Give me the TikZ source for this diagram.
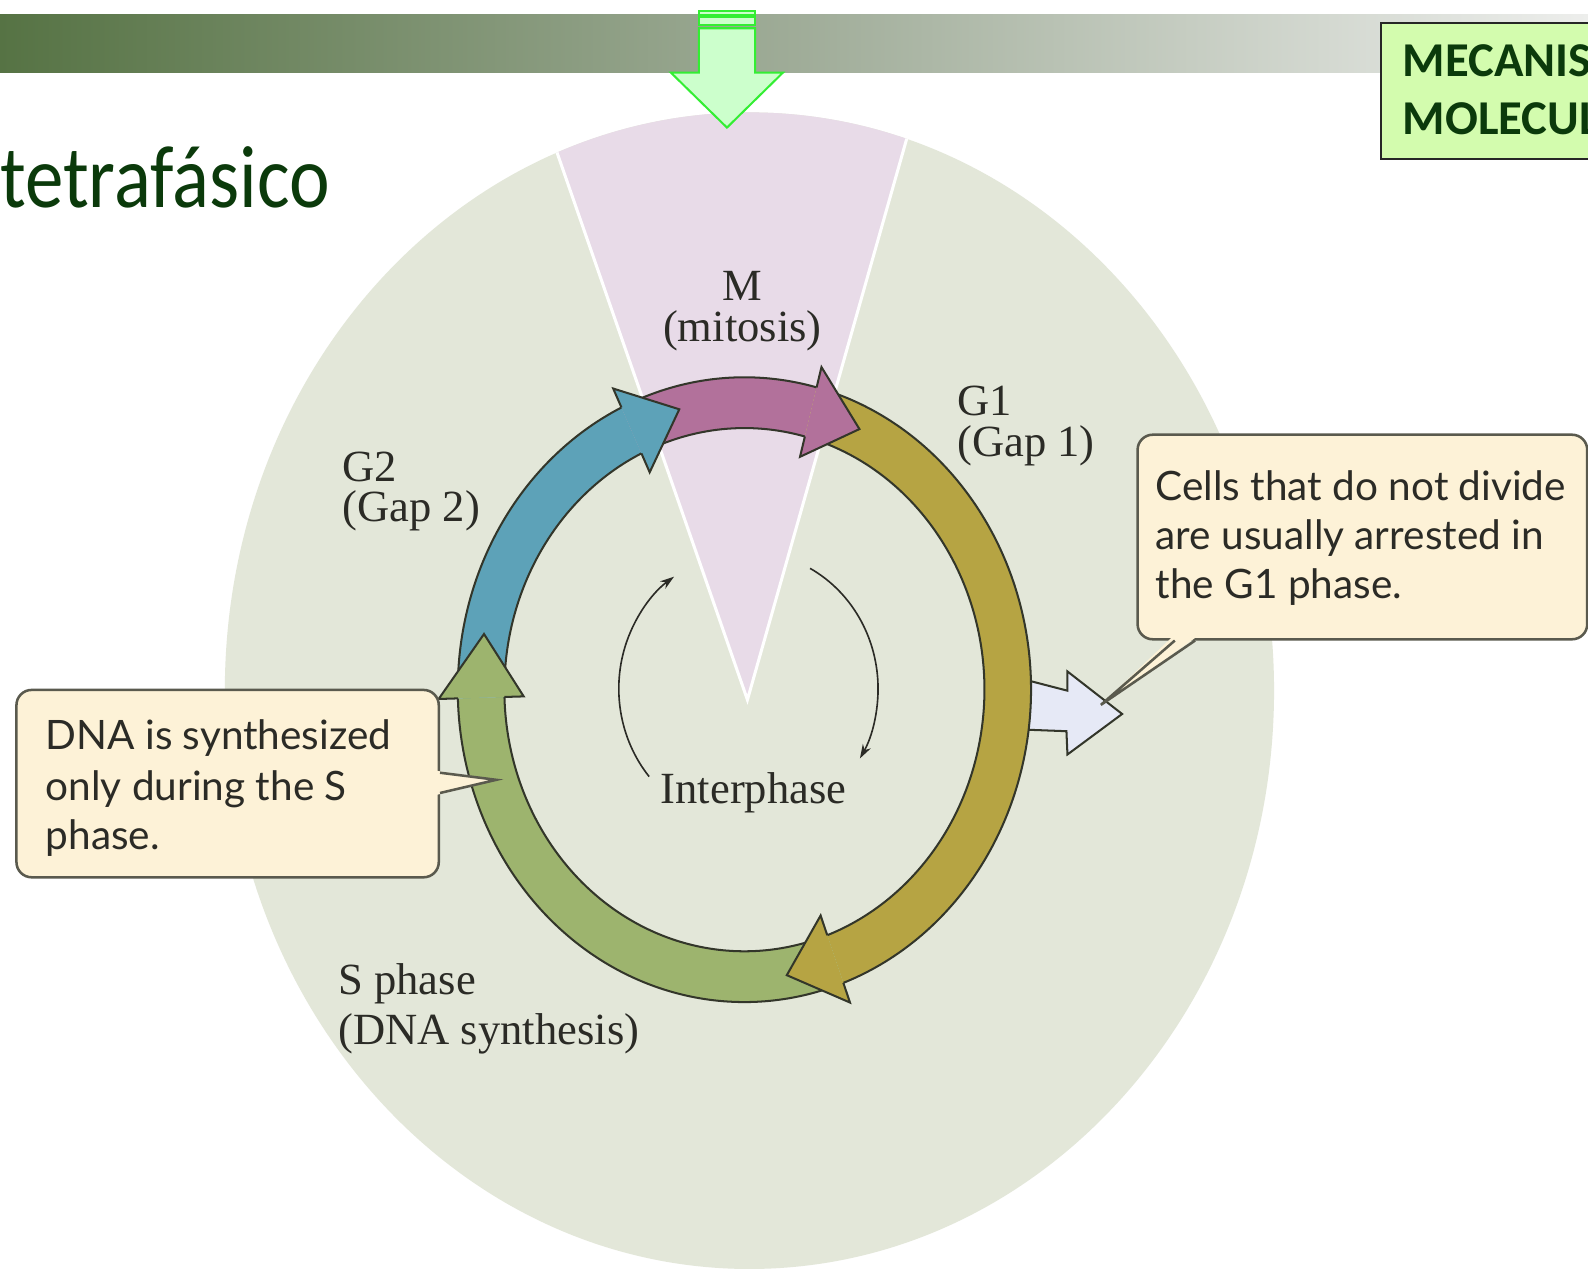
\documentclass[tikz,border=0pt]{standalone}
\usepackage{fontspec}
\setmainfont{Liberation Serif}
\newfontfamily\calfont{Carlito}
\newfontfamily\callfont{Lato}
\usetikzlibrary{arrows.meta,calc}
\definecolor{bardark}{HTML}{567344}
\definecolor{barmid}{HTML}{9FAC98}
\definecolor{barlight}{HTML}{EDEEEC}
\definecolor{disc}{HTML}{E3E7D9}
\definecolor{wedge}{HTML}{E8DBE8}
\definecolor{magc}{HTML}{B2719B}
\definecolor{bluec}{HTML}{5DA2B8}
\definecolor{yelc}{HTML}{B6A443}
\definecolor{grnc}{HTML}{9DB46E}
\definecolor{rim}{HTML}{33362A}
\definecolor{cream}{HTML}{FDF2D7}
\definecolor{boxrim}{HTML}{5A5A4E}
\definecolor{titlec}{HTML}{0B3A0B}
\definecolor{lgreen}{HTML}{D3FCAE}
\definecolor{arrowgreen}{HTML}{33EE33}
\definecolor{arrowfill}{HTML}{CCFFCC}
\definecolor{exitc}{HTML}{E6E9F6}
\definecolor{ink}{HTML}{2B2B26}
\newcommand\cycbody[3]{%
  \fill[#1] (#2:283) arc[start angle=#2, end angle=#3, radius=283] -- (#3:237) arc[start angle=#3, end angle=#2, radius=237] -- cycle;
  \draw[band] (#2:283) arc[start angle=#2, end angle=#3, radius=283];
  \draw[band] (#2:237) arc[start angle=#2, end angle=#3, radius=237];}
\newcommand\cychead[3]{%
  \fill[#1] (#2:302) -- (#3:262) -- (#2:218) -- cycle;
  \draw[band, line join=miter] (#2:283) -- (#2:302) -- (#3:262) -- (#2:218) -- (#2:237);}
\begin{document}
\begin{tikzpicture}[x=1pt,y=1pt,
  lbl/.style={text=ink, inner sep=0pt, anchor=north west, align=left},
  calltext/.style={font=\callfont\fontsize{40}{40}\selectfont, text=ink, inner sep=0pt, anchor=base west},
  callbox/.style={draw=boxrim, line width=2.5pt, fill=cream, rounded corners=15pt, inner sep=0pt, anchor=north west},
  band/.style={line width=2pt, draw=rim},
  garrow/.style={draw=arrowgreen, fill=arrowfill, line width=2pt},
]
\useasboundingbox (0,0) rectangle (1568,1266);
\fill[white] (0,0) rectangle (1568,1266);
\clip (0,0) rectangle (1568,1266);
\begin{scope}[shift={(0,1266)}, yscale=-1]
  % top bar
  \shade[left color=bardark, right color=barlight, middle color=barmid] (0,14) rectangle (1568,72);
  % background disc and mitosis wedge
  \fill[disc] (740,682) ellipse [x radius=518, y radius=571];
  \begin{scope}
    \clip (740,682) ellipse [x radius=518, y radius=571];
    \fill[wedge] (738,691) -- (515,50) -- (920,50) -- cycle;
    \draw[white, line width=3pt] (515,50) -- (738,691) -- (920,50);
  \end{scope}
  % green down arrow
  \filldraw[garrow] (690,10.6) rectangle (745.5,14.8);
  \filldraw[garrow] (690,17.1) rectangle (745.5,24.7);
  \filldraw[garrow] (690,27.9) -- (745.5,27.9) -- (745.5,71.8) -- (773,71.8) -- (717.8,126) -- (662.5,71.8) -- (690,71.8) -- cycle;
  % title
  \node[font=\calfont\fontsize{76}{76}\selectfont, text=titlec, inner sep=0pt, anchor=base west] (title) at (0,205) {\scalebox{1}[1.15]{tetrafásico}};
  % top-right box
  \node[draw=black!85, line width=2pt, fill=lgreen, anchor=north west, minimum width=260pt, minimum height=134pt, inner sep=0pt] (mbox) at (1363,22) {};
  \node[font=\calfont\bfseries\fontsize{48}{57}\selectfont, text=titlec, inner sep=0pt, anchor=north west, align=left] (mt) at (1385,44) {MECANISMOS\\MOLECULARES};
  % G1 exit arrow
  \filldraw[fill=exitc, draw=rim, line width=2pt] (1000,668) -- (1054,682) -- (1054,663) -- (1108,705) -- (1054,745) -- (1053,722) -- (1000,720) -- cycle;
\end{scope}
% cycle ring
\begin{scope}[shift={(735,585)}, yscale=1.09]
  \cycbody{magc}{115.4}{75.4}
  \cycbody{yelc}{75.4}{-69.8}
  \cycbody{grnc}{-69.8}{-178.4}
  \cycbody{bluec}{181.6}{115.4}
  \cychead{magc}{75.4}{64.3}
  \cychead{yelc}{-69.8}{-80.8}
  \cychead{grnc}{-178.4}{-191.1}
  \cychead{bluec}{115.4}{104.2}
\end{scope}
% interphase arcs
\begin{scope}[shift={(739,586)}, yscale=1.055]
  \draw[ink, line width=1.6pt, -{Stealth[length=14pt,width=9pt]}] (220:128) arc[start angle=220, end angle=125, radius=128];
  \draw[ink, line width=1.6pt, -{Stealth[length=14pt,width=9pt]}] (61.6:128) arc[start angle=61.6, end angle=-30.7, radius=128];
\end{scope}
\begin{scope}[shift={(0,1266)}, yscale=-1]
  % phase labels
  \node[lbl, anchor=north, align=center, font=\fontsize{44}{40}\selectfont] (mlab) at (733,268) {M\\(mitosis)};
  \node[lbl, font=\fontsize{44}{40}\selectfont] (g1lab) at (945,381) {G1\\(Gap 1)};
  \node[lbl, font=\fontsize{44}{40}\selectfont] (g2lab) at (338,446) {G2\\(Gap 2)};
  \node[lbl, font=\fontsize{44}{50}\selectfont] (slab) at (334,951) {S phase\\(DNA synthesis)};
  \node[text=ink, inner sep=0pt, font=\fontsize{44}{44}\selectfont, anchor=base] (ip) at (744,793) {Interphase};
  % right callout
  \node[callbox, minimum width=444pt, minimum height=202pt] (rbox) at (1122,428) {};
  \coordinate (rtip) at (1087,696);
  \fill[cream] ($(rbox.south west)+(36,-4)$) -- (rtip) -- ($(rbox.south west)+(60,-4)$) -- cycle;
  \draw[boxrim, line width=2.5pt] ($(rbox.south west)+(38,0)$) -- (rtip) -- ($(rbox.south west)+(58,0)$);
  \node[calltext] (r1) at (1141,494) {Cells that do not divide};
  \node[calltext] (r2) at (1141,543) {are usually arrested in};
  \node[calltext] (r3) at (1141,591) {the G1 phase.};
  % left callout
  \node[callbox, minimum width=417pt, minimum height=185pt] (lbox) at (15,680) {};
  \coordinate (ltip) at (490,770);
  \fill[cream] ($(lbox.north east)+(-4,81)$) -- (ltip) -- ($(lbox.north east)+(-4,105)$) -- cycle;
  \draw[boxrim, line width=2.5pt] ($(lbox.north east)+(0,83)$) -- (ltip) -- ($(lbox.north east)+(0,103)$);
  \node[calltext] (l1) at (45,740) {DNA is synthesized};
  \node[calltext] (l2) at (45,790) {only during the S};
  \node[calltext] (l3) at (45,839) {phase.};
\end{scope}
\end{tikzpicture}
\end{document}
